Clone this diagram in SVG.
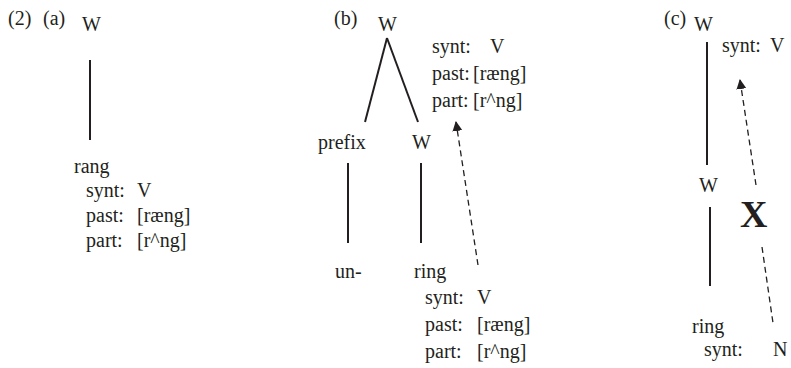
<svg xmlns="http://www.w3.org/2000/svg" width="791" height="368" viewBox="0 0 791 368">
<defs>
<style>
text{font-family:"Liberation Serif","Times New Roman",serif;font-size:20px;fill:#231f20}
.bold{font-weight:bold;font-size:38px}
.solid{stroke:#231f20;stroke-width:2;fill:none}
.dash{stroke:#231f20;stroke-width:1.3;fill:none;stroke-dasharray:6 4}
</style>
<marker id="ah" viewBox="0 0 10 10" refX="9" refY="5" markerWidth="10" markerHeight="10" markerUnits="userSpaceOnUse" orient="auto"><path d="M0,0 L10,5 L0,10 z" fill="#231f20"/></marker>
</defs>
<rect width="791" height="368" fill="#fff"/>
<g id="labels">
<text x="8" y="25">(2)</text><text x="43" y="25">(a)</text>
<text x="334" y="25">(b)</text>
<text x="664" y="25">(c)</text>
</g>
<g id="connectors">
<line class="solid" x1="90" y1="60" x2="90" y2="140"/>
<line class="solid" x1="387" y1="38" x2="365" y2="122"/>
<line class="solid" x1="387" y1="38" x2="418" y2="122"/>
<line class="solid" x1="348" y1="163" x2="348" y2="243"/>
<line class="solid" x1="421" y1="163" x2="421" y2="243"/>
<line class="dash" x1="478" y1="265" x2="456" y2="122" marker-end="url(#ah)"/>
<line class="solid" x1="707" y1="42" x2="707" y2="165"/>
<line class="dash" x1="756" y1="185" x2="740" y2="80" marker-end="url(#ah)"/>
<line class="solid" x1="710" y1="207" x2="710" y2="286"/>
<line class="dash" x1="762" y1="247" x2="773" y2="323"/>
</g>
<g id="a-W"><text x="82" y="31">W</text></g>
<g id="a-rang">
<text x="74" y="173">rang</text>
<text x="86" y="197">synt:</text><text x="137" y="197">V</text>
<text x="86" y="222">past:</text><text x="137" y="222">[ræng]</text>
<text x="86" y="247">part:</text><text x="137" y="247">[r^ng]</text>
</g>
<g id="b-W"><text x="378" y="31">W</text></g>
<g id="b-features">
<text x="432" y="53">synt:</text><text x="490" y="53">V</text>
<text x="432" y="80">past:</text><text x="473" y="80">[ræng]</text>
<text x="432" y="107">part:</text><text x="473" y="107">[r^ng]</text>
</g>
<g id="b-prefix"><text x="318" y="149">prefix</text></g>
<g id="b-W2"><text x="412" y="149">W</text></g>
<g id="b-un"><text x="335" y="278">un-</text></g>
<g id="b-ring">
<text x="414" y="278">ring</text>
<text x="425" y="304">synt:</text><text x="477" y="304">V</text>
<text x="425" y="331">past:</text><text x="477" y="331">[ræng]</text>
<text x="425" y="358">part:</text><text x="477" y="358">[r^ng]</text>
</g>
<g id="c-W"><text x="694" y="31">W</text><text x="722" y="52">synt:</text><text x="770" y="52">V</text></g>
<g id="c-W2"><text x="699" y="192">W</text></g>
<g id="c-X"><text class="bold" x="740" y="227">X</text></g>
<g id="c-ring">
<text x="692" y="333">ring</text>
<text x="704" y="356">synt:</text><text x="773" y="356">N</text>
</g>
</svg>
